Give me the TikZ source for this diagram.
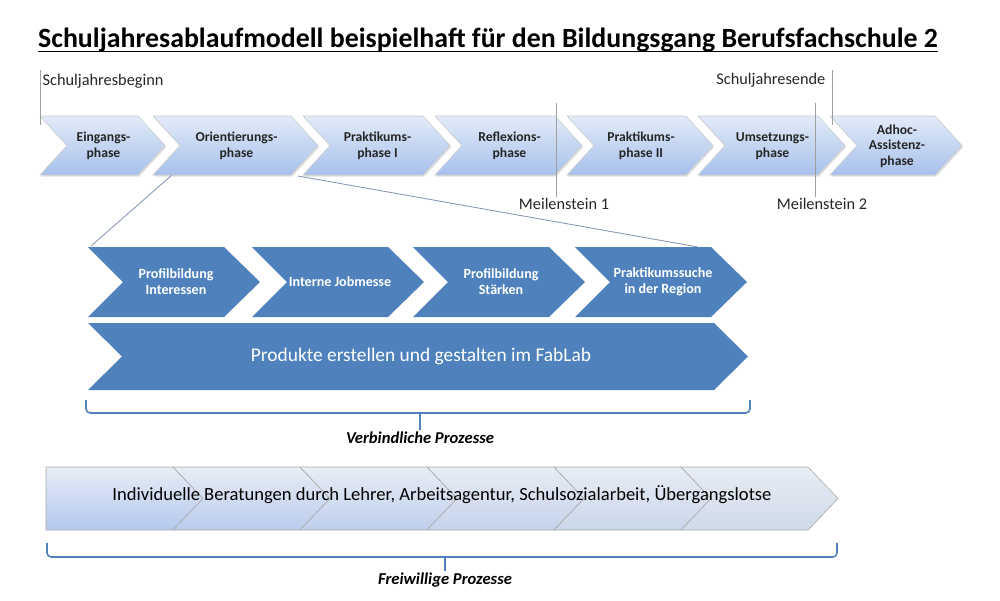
\documentclass[tikz,border=0pt]{standalone}
\usepackage{fontspec}
\setmainfont{Carlito}
\usepackage{xcolor}
\usetikzlibrary{positioning,calc,shadows}

\definecolor{phaseTop}{HTML}{E3EBF8}
\definecolor{phaseBot}{HTML}{A6C0EC}
\definecolor{prozBlau}{HTML}{4F81BD}
\definecolor{linieBlau}{HTML}{8497B6}
\definecolor{beratTop}{HTML}{E8EDF5}
\definecolor{beratBot}{HTML}{B3C8EE}
\definecolor{beratBotR}{HTML}{D2DBE8}

\tikzset{
  phase/.style={top color=phaseTop,bottom color=phaseBot,draw=gray!40,line width=0.4pt,
    drop shadow={opacity=0.25,shadow xshift=0.8pt,shadow yshift=-1.2pt}},
  phasetext/.style={font=\fontsize{9.7}{11}\selectfont\bfseries,align=center,text=black!85},
  schritt/.style={fill=prozBlau},
  schritttext/.style={font=\fontsize{10}{11.5}\selectfont\bfseries,align=center,text=white},
  marke/.style={font=\fontsize{11.6}{13}\selectfont,text=black!85,inner sep=1pt},
  markelinie/.style={draw=gray!75,line width=0.5pt},
  zoomlinie/.style={draw=linieBlau,line width=0.6pt},
  klammer/.style={draw=prozBlau,line width=1.1pt},
  klammertext/.style={font=\fontsize{11.8}{13}\selectfont\bfseries\itshape,inner sep=1pt},
}

\begin{document}
\begin{tikzpicture}[x=0.025cm,y=-0.025cm]
  \useasboundingbox[fill=white] (0,0) rectangle (1000,600);
  % Titel
  \node[font=\fontsize{19.8}{23}\selectfont\bfseries,inner sep=0pt] (titel) at (488,40)
    {Schuljahresablaufmodell beispielhaft für den Bildungsgang Berufsfachschule 2};
  \draw[line width=1.2pt] ([yshift=-2.8pt]titel.base west) -- ([yshift=-2.8pt]titel.base east);
  % Phasen des Schuljahres
  \foreach \xa/\xb/\name/\txt in {40/165/ein/{Eingangs-\\phase},153/318/ori/{Orientierungs-\\phase},
      303/450/prak/{Praktikums-\\phase I},435/582/refl/{Reflexions-\\phase},
      567/713/prakz/{Praktikums-\\phase II},698/845/ums/{Umsetzungs-\\phase},
      830/962/adhoc/{Adhoc-\\Assistenz-\\phase}}{
    \draw[phase] (\xa,116) -- ({\xb-27},116) -- (\xb,145.5) -- ({\xb-27},175) -- (\xa,175)
      -- ({\xa+27},145.5) -- cycle;
    \node[phasetext] (\name) at ({(\xa+\xb)/2+1},146) {\txt};
  }
  % Beginn, Ende, Meilensteine
  \node[marke,anchor=west] (beginn) at (41,81) {Schuljahresbeginn};
  \node[marke,anchor=east] (ende) at (827,80) {Schuljahresende};
  \node[marke] (ms1) at (564,204) {Meilenstein 1};
  \node[marke] (ms2) at (822,204) {Meilenstein 2};
  \coordinate (bOben) at (40,70);
  \coordinate (eOben) at (832,70);
  \coordinate (m1Oben) at (556,103);
  \coordinate (m2Oben) at (815,103);
  \draw[markelinie] (bOben) -- ++(0,55);
  \draw[markelinie] (eOben) -- ++(0,55);
  \draw[markelinie] (m1Oben) -- (m1Oben |- ms1.north);
  \draw[markelinie] (m2Oben) -- (m2Oben |- ms2.north);
  % Lupe auf die Orientierungsphase
  \coordinate (oriL) at (172,175);
  \coordinate (oriR) at (298,176);
  \coordinate (detL) at (91,246);
  \coordinate (detR) at (698,247);
  \draw[zoomlinie] (oriL) -- (detL);
  \draw[zoomlinie] (oriR) -- (detR);
  % verbindliche Prozesse
  \foreach \xa/\name/\txt in {88/inter/{Profilbildung\\Interessen},252/jobm/{Interne Jobmesse},
      413/staerk/{Profilbildung\\Stärken},575/region/{Praktikumssuche\\in der Region}}{
    \fill[schritt] (\xa,247) -- ({\xa+136},247) -- ({\xa+172},282) -- ({\xa+136},317) -- (\xa,317)
      -- ({\xa+35},282) -- cycle;
    \node[schritttext] (\name) at ({\xa+88},282) {\txt};
  }
  \fill[schritt] (88,323) -- (714,323) -- (748,356.5) -- (714,390) -- (88,390) -- (122,356.5) -- cycle;
  \node[font=\fontsize{13.8}{16}\selectfont,text=white] (fablab) at (421,356)
    {Produkte erstellen und gestalten im FabLab};
  \draw[klammer,rounded corners=3pt] (86,400) -- (86,413) -- (750,413) -- (750,400);
  \node[klammertext] (verb) at (420,438) {Verbindliche Prozesse};
  \draw[klammer] (420,413) -- (verb.north);
  % freiwillige Prozesse
  \foreach \i in {0,...,5}{
    \pgfmathsetmacro\xa{46+127*\i}
    \pgfmathsetmacro\kerbe{\i==0 ? 0 : 30}
    \pgfmathtruncatemacro\pct{100-18*\i}
    \draw[top color=beratTop,bottom color=beratBot!\pct!beratBotR,draw=gray!65,line width=0.45pt]
      (\xa,467) -- ({\xa+127},467) -- ({\xa+157},498.5) -- ({\xa+127},530) -- (\xa,530)
      -- ({\xa+\kerbe},498.5) -- cycle;
  }
  \node[font=\fontsize{13.2}{15}\selectfont] (berat) at (442,495)
    {Individuelle Beratungen durch Lehrer, Arbeitsagentur, Schulsozialarbeit, Übergangslotse};
  \draw[klammer,rounded corners=3pt] (47,543) -- (47,557) -- (837,557) -- (837,543);
  \node[klammertext] (frei) at (445,580) {Freiwillige Prozesse};
  \draw[klammer] (445,557) -- (frei.north);
\end{tikzpicture}
\end{document}
